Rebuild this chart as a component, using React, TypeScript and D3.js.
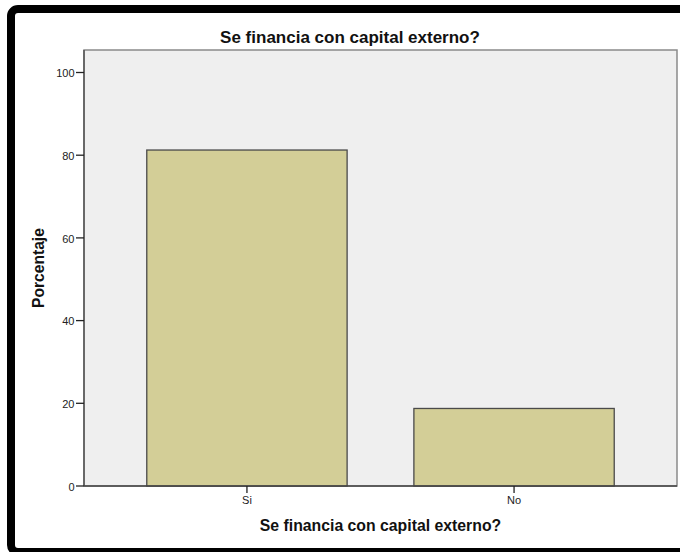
import React from "react";
import * as d3 from "d3";

const categories: string[] = ["Si", "No"];
const values: number[] = [81.25, 18.75];
const yTicks: number[] = [0, 20, 40, 60, 80, 100];
const chartTitle = "Se financia con capital externo?";
const xTitle = "Se financia con capital externo?";
const yTitle = "Porcentaje";

const W = 680;
const H = 552;
const plot = { left: 84, right: 677, top: 50, bottom: 486 };

export default function App() {
  const x = d3
    .scaleBand<string>()
    .domain(categories)
    .range([plot.left, plot.right])
    .paddingInner(0.25)
    .paddingOuter(0.235);
  const y = d3.scaleLinear().domain([0, 100]).range([plot.bottom, 72.5]);
  const font = "'Liberation Sans', Arial, sans-serif";

  return (
    <svg
      width={W}
      height={H}
      style={{ position: "absolute", left: 0, top: 0, background: "#fff" }}
      fontFamily={font}
    >
      <rect x={0} y={0} width={W} height={H} fill="#fff" />
      {/* outer frame */}
      <rect x={11} y={9} width={W} height={543} rx={7} fill="none" stroke="#000" strokeWidth={8} />
      {/* plot background */}
      <rect
        x={plot.left}
        y={plot.top}
        width={plot.right - plot.left}
        height={plot.bottom - plot.top}
        fill="#EFEFEF"
        stroke="#8a8a8a"
        strokeWidth={1.5}
      />
      {/* bars */}
      {categories.map((c, i) => (
        <rect
          key={c}
          x={x(c)!}
          y={y(values[i])}
          width={x.bandwidth()}
          height={plot.bottom - y(values[i])}
          fill="#D3CE97"
          stroke="#4a4a4a"
          strokeWidth={1.3}
        />
      ))}
      {/* axes lines */}
      <line x1={plot.left} x2={plot.left} y1={plot.top} y2={plot.bottom} stroke="#555" strokeWidth={1.5} />
      <line x1={plot.left} x2={plot.right} y1={plot.bottom} y2={plot.bottom} stroke="#444" strokeWidth={1.5} />
      {/* y ticks */}
      {yTicks.map((t) => (
        <g key={t}>
          <line x1={plot.left - 8} x2={plot.left} y1={y(t)} y2={y(t)} stroke="#222" strokeWidth={1.3} />
          <text
            x={plot.left - 9.5}
            y={y(t)}
            dy="0.42em"
            textAnchor="end"
            fontSize={11}
            fill="#222"
          >
            {t}
          </text>
        </g>
      ))}
      {/* x ticks */}
      {categories.map((c) => {
        const cx = x(c)! + x.bandwidth() / 2;
        return (
          <g key={c}>
            <line x1={cx} x2={cx} y1={plot.bottom} y2={plot.bottom + 7} stroke="#222" strokeWidth={1.3} />
            <text x={cx} y={plot.bottom + 18} textAnchor="middle" fontSize={11} fill="#222">
              {c}
            </text>
          </g>
        );
      })}
      {/* titles */}
      <text x={350} y={43} textAnchor="middle" fontSize={17} fontWeight="bold" fill="#111">
        {chartTitle}
      </text>
      <text x={380.5} y={531} textAnchor="middle" fontSize={15.8} fontWeight="bold" fill="#111">
        {xTitle}
      </text>
      <text
        transform={`translate(44,268) rotate(-90)`}
        textAnchor="middle"
        fontSize={15.6}
        fontWeight="bold"
        fill="#111"
      >
        {yTitle}
      </text>
    </svg>
  );
}
